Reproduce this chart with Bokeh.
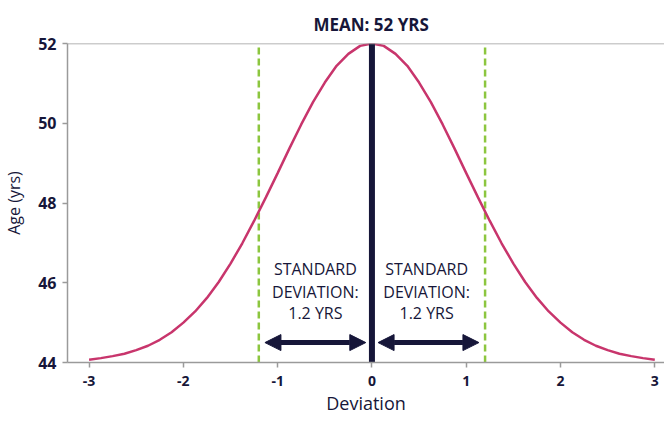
from bokeh.plotting import figure
from bokeh.models import Span, Arrow, NormalHead, FixedTicker, ColumnDataSource
from bokeh.core.properties import value
from bokeh.embed import file_html
from bokeh.resources import INLINE

# ---- data ----
deviation = [-3.0, -2.875, -2.75, -2.625, -2.5, -2.375, -2.25, -2.125, -2.0, -1.875,
             -1.75, -1.625, -1.5, -1.375, -1.25, -1.125, -1.0, -0.875, -0.75, -0.625,
             -0.5, -0.375, -0.25, -0.125, 0.0, 0.125, 0.25, 0.375, 0.5, 0.625,
             0.75, 0.875, 1.0, 1.125, 1.25, 1.375, 1.5, 1.625, 1.75, 1.875,
             2.0, 2.125, 2.25, 2.375, 2.5, 2.625, 2.75, 2.875, 3.0]
age = [44.07, 44.11, 44.16, 44.22, 44.31, 44.42, 44.57, 44.76, 45.00, 45.28,
       45.62, 46.02, 46.48, 46.99, 47.55, 48.14, 48.75, 49.37, 49.97, 50.53,
       51.02, 51.44, 51.74, 51.94, 52.00, 51.94, 51.74, 51.44, 51.02, 50.53,
       49.97, 49.37, 48.75, 48.14, 47.55, 46.99, 46.48, 46.02, 45.62, 45.28,
       45.00, 44.76, 44.57, 44.42, 44.31, 44.22, 44.16, 44.11, 44.07]
mean_age = 52
x_ticks = [-3, -2, -1, 0, 1, 2, 3]
x_tick_labels = ["-3", "-2", "-1", "0", "1", "2", "3"]
y_ticks = [44, 46, 48, 50, 52]
sd_lines = [-1.2, 1.2]
sd_text = ["STANDARD", "DEVIATION:", "1.2 YRS"]
sd_text_y = [46.34, 45.78, 45.23]
arrow_y = 44.5

NAVY = "#161639"
CURVE = "#c8356c"
GREEN = "#8cc63f"
AXIS = "#9a9a9a"
FONT = "Open Sans"
W, H = 664, 417

p = figure(width=W, height=H, output_backend="svg", toolbar_location=None,
           x_range=(-3.229, 3.103), y_range=(44, 52),
           min_border_left=66, min_border_right=0, min_border_top=43, min_border_bottom=55)
p.outline_line_color = None
p.xgrid.visible = False
p.ygrid.visible = False

# title
p.title.text = "MEAN: 52 YRS"
p.title.align = "left"
p.title.offset = 246
p.title.standoff = 12
p.title.vertical_align = "top"
p.title.text_font = FONT
p.title.text_font_style = "bold"
p.title.text_font_size = "17px"
p.title.text_color = NAVY

# axes
for ax in (p.xaxis[0], p.yaxis[0]):
    ax.axis_line_color = AXIS
    ax.axis_line_width = 1.5
    ax.major_tick_line_color = AXIS
    ax.major_tick_line_width = 1.5
    ax.major_tick_in = 0
    ax.major_tick_out = 5
    ax.minor_tick_line_color = None
    ax.major_label_text_font = FONT
    ax.major_label_text_font_style = "bold"
    ax.major_label_text_color = NAVY
    ax.axis_label_text_font = FONT
    ax.axis_label_text_font_style = "normal"
    ax.axis_label_text_color = NAVY

p.xaxis.ticker = FixedTicker(ticks=x_ticks)
p.xaxis.major_label_overrides = {t: s for t, s in zip(x_ticks, x_tick_labels)}
p.yaxis.ticker = FixedTicker(ticks=y_ticks)
p.xaxis.major_label_text_font_size = "14px"
p.yaxis.major_label_text_font_size = "16px"
p.xaxis.major_label_standoff = 8
p.yaxis.major_label_standoff = 6

p.xaxis.axis_label = "Deviation"
p.xaxis.axis_label_text_font_size = "18px"
p.xaxis.axis_label_standoff = 2
p.yaxis.axis_label = "Age (yrs)"
p.yaxis.axis_label_text_font_size = "16px"
p.yaxis.axis_label_standoff = 10

# top border line at the mean
p.add_layout(Span(location=mean_age, dimension="width", line_color=AXIS, line_width=1.5))

# green dashed SD lines
for xv in sd_lines:
    p.line([xv, xv], [44, mean_age], line_color=GREEN, line_width=2.5, line_dash="7 4")

# bell curve
p.line(deviation, age, line_color=CURVE, line_width=2.5)

# mean line
p.line([0, 0], [44, mean_age], line_color=NAVY, line_width=6)

# arrows
for xs, xe in [(-0.065, -1.135), (0.065, 1.135)]:
    p.add_layout(Arrow(x_start=xs, y_start=arrow_y, x_end=xe, y_end=arrow_y,
                       line_color=NAVY, line_width=5,
                       start=NormalHead(size=16, fill_color=NAVY, line_color=NAVY, line_width=1),
                       end=NormalHead(size=16, fill_color=NAVY, line_color=NAVY, line_width=1)))

# SD annotation text
for cx in (-0.6, 0.58):
    src = ColumnDataSource(dict(x=[cx] * 3, y=sd_text_y, t=sd_text))
    p.text(x="x", y="y", text="t", source=src, text_align="center", text_baseline="middle",
           text_font=value(FONT), text_font_size="16px", text_color=NAVY)

open("out.html", "w").write(file_html(p, INLINE))
